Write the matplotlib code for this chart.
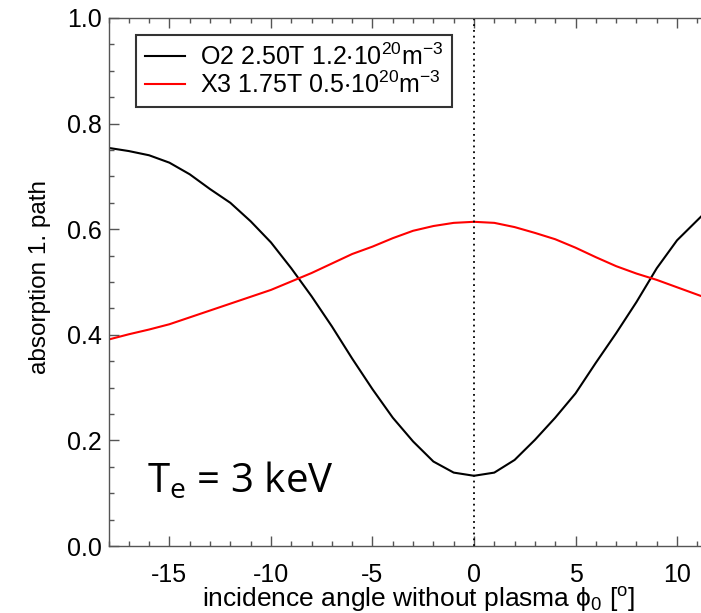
import numpy as np
import matplotlib
matplotlib.use("Agg")
import matplotlib.pyplot as plt
from matplotlib.ticker import MultipleLocator, FixedLocator

plt.rcParams['font.family'] = ['Liberation Sans', 'DejaVu Sans']
plt.rcParams['mathtext.default'] = 'regular'
plt.rcParams['axes.unicode_minus'] = False

# incidence angle [deg]
angle = np.arange(-18, 13)

# absorption on first pass, O2 and X3 scenarios
o2_abs = [0.754, 0.748, 0.740, 0.726, 0.704, 0.676, 0.650, 0.615, 0.575, 0.526,
          0.473, 0.416, 0.355, 0.297, 0.243, 0.198, 0.160, 0.139, 0.133, 0.139,
          0.163, 0.201, 0.243, 0.289, 0.347, 0.403, 0.462, 0.526, 0.579, 0.617,
          0.655]
x3_abs = [0.391, 0.401, 0.410, 0.420, 0.433, 0.446, 0.459, 0.472, 0.485, 0.501,
          0.517, 0.535, 0.553, 0.567, 0.583, 0.597, 0.606, 0.612, 0.614, 0.612,
          0.604, 0.593, 0.581, 0.565, 0.547, 0.530, 0.516, 0.504, 0.490, 0.476,
          0.462]

xticks = [-15, -10, -5, 0, 5, 10]

o2_label = r'O2 2.50T 1.2$\cdot$10$^{20}$m$^{-3}$'
x3_label = r'X3 1.75T 0.5$\cdot$10$^{20}$m$^{-3}$'

W, H = 701, 613
fig = plt.figure(figsize=(W / 100, H / 100), dpi=100)
# axes run past the right edge of the figure
ax = fig.add_axes([108.5 / W, (H - 546) / H, 731 / W, 528 / H])

ax.plot(angle, o2_abs, color='black', lw=1.5, label=o2_label)
ax.plot(angle, x3_abs, color='red', lw=1.5, label=x3_label)
ax.axvline(0, color='black', ls=(0, (1, 2.2)), lw=1.3)

ax.set_xlim(-18, 18)
ax.set_ylim(0, 1)
ax.xaxis.set_major_locator(FixedLocator(xticks))
ax.xaxis.set_minor_locator(MultipleLocator(1))
ax.yaxis.set_major_locator(MultipleLocator(0.2))
ax.yaxis.set_minor_locator(MultipleLocator(0.05))
ax.yaxis.set_major_formatter(plt.FormatStrFormatter('%.1f'))
ax.tick_params(which='both', direction='in', top=True, right=True,
               color='#555555', width=1)
ax.tick_params(which='major', length=7.5)
ax.tick_params(which='minor', length=3.8)
ax.tick_params(axis='x', labelsize=18, pad=12)
ax.tick_params(axis='y', labelsize=18, pad=5)
for s in ax.spines.values():
    s.set_color('#555555')
    s.set_linewidth(1)

ax.set_xlabel(r'incidence angle without plasma $\phi_0$ [$^o$]', fontsize=19)
ax.xaxis.set_label_coords(419 / W, (H - 607) / H, transform=fig.transFigure)
ax.xaxis.label.set_va('baseline')
ax.set_ylabel('absorption 1. path', fontsize=17.5)
ax.yaxis.set_label_coords(40 / W, (H - 277) / H, transform=fig.transFigure)
ax.yaxis.label.set_va('center')

leg = ax.legend(loc='upper left', bbox_to_anchor=(136 / W, 1 - 35 / H),
                bbox_transform=fig.transFigure, fontsize=18, frameon=True,
                fancybox=False, edgecolor='black', handlelength=1.6,
                handletextpad=0.6, borderpad=0.35, labelspacing=0.05,
                borderaxespad=0)
leg.get_frame().set_linewidth(1.5)

fig.text(147 / W, (H - 492) / H, r'T$_e$ = 3 keV', fontsize=29,
         family=['Open Sans', 'DejaVu Sans'], va='baseline')

fig.savefig('out.png', dpi=100)
